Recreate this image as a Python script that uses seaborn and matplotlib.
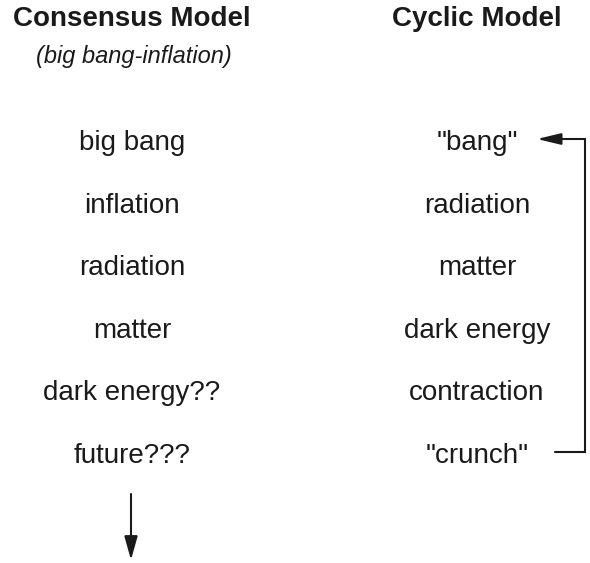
import matplotlib
matplotlib.use("Agg")
import matplotlib.pyplot as plt
import seaborn as sns

# column titles
titles = ["Consensus Model", "Cyclic Model"]
subtitle = "(big bang-inflation)"

# stages of each model, top to bottom
consensus_stages = ["big bang", "inflation", "radiation", "matter",
                    "dark energy??", "future???"]
cyclic_stages = ['"bang"', "radiation", "matter", "dark energy",
                 "contraction", '"crunch"']


def plot_models():
    sns.set_theme(style="white")
    plt.rcParams['font.family'] = ['Liberation Sans', 'DejaVu Sans']

    fig = plt.figure(figsize=(5.9, 5.63), dpi=100)
    ax = fig.add_axes([0, 0, 1, 1])
    ax.set_xlim(0, 590)
    ax.set_ylim(563, 0)
    ax.axis('off')

    col_x = [132, 477]
    row0, step = 150, 62.6

    for x, t in zip(col_x, titles):
        ax.text(x, 26, t, ha='center', va='baseline', fontsize=20,
                fontweight='bold', color='k')
    ax.text(134, 63, subtitle, ha='center', va='baseline', fontsize=17,
            style='italic', color='k')

    for i, s in enumerate(consensus_stages):
        ax.text(col_x[0], row0 + i * step, s, ha='center', va='baseline',
                fontsize=20, color='k')
    for i, s in enumerate(cyclic_stages):
        ax.text(col_x[1], row0 + i * step, s, ha='center', va='baseline',
                fontsize=20, color='k')

    # cycle arrow: crunch back to bang
    y_top = row0 - 11
    y_bot = row0 + 5 * step - 11
    ax.plot([555, 585, 585, 556], [y_bot, y_bot, y_top, y_top],
            color='k', lw=1.5, solid_joinstyle='miter')
    ax.annotate("", xy=(537, y_top), xytext=(560, y_top),
                arrowprops=dict(arrowstyle="-|>,head_length=1.0,head_width=0.24",
                                mutation_scale=14.4, color='k', lw=1.5,
                                shrinkA=0, shrinkB=0))

    # open future arrow
    ax.annotate("", xy=(131, 560), xytext=(131, 494),
                arrowprops=dict(arrowstyle="-|>,head_length=1.0,head_width=0.28",
                                mutation_scale=14.4, color='k', lw=1.5,
                                shrinkA=0, shrinkB=0))

    fig.savefig('out.png', dpi=100)


if __name__ == '__main__':
    plot_models()
